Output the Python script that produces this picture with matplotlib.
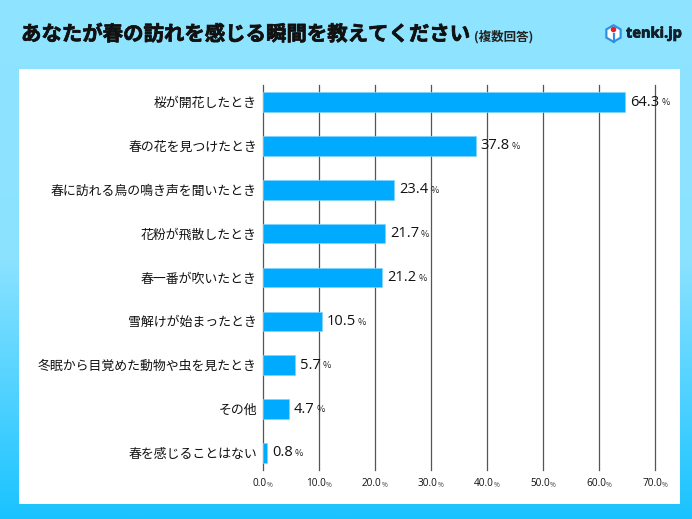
import numpy as np
import matplotlib
matplotlib.use('Agg')
import matplotlib.pyplot as plt
import matplotlib.patheffects as pe
from matplotlib.colors import LinearSegmentedColormap
from matplotlib.patches import Rectangle, RegularPolygon, Circle

plt.rcParams['font.family'] = ['Noto Sans CJK JP', 'DejaVu Sans']

labels = ['桜が開花したとき', '春の花を見つけたとき', '春に訪れる鳥の鳴き声を聞いたとき',
          '花粉が飛散したとき', '春一番が吹いたとき', '雪解けが始まったとき',
          '冬眠から目覚めた動物や虫を見たとき', 'その他', '春を感じることはない']
values = [64.3, 37.8, 23.4, 21.7, 21.2, 10.5, 5.7, 4.7, 0.8]
ticks = [0, 10, 20, 30, 40, 50, 60, 70]

W, H = 692, 519
fig = plt.figure(figsize=(W / 100, H / 100), dpi=100)
thick = [pe.withStroke(linewidth=0.5, foreground='#111111')]

# background gradient, white panel, title and logo, all in pixel coords
bg = fig.add_axes([0, 0, 1, 1])
bg.set_xlim(0, W)
bg.set_ylim(H, 0)
bg.axis('off')
cmap = LinearSegmentedColormap.from_list('bg', ['#8fe4ff', '#8be2ff', '#1ac3ff'])
bg.imshow(np.linspace(0, 1, 256).reshape(-1, 1), cmap=cmap, aspect='auto', extent=[0, W, H, 0])
bg.add_patch(Rectangle((19, 69), 661, 435, fc='white', ec='none'))

bg.text(21, 34, 'あなたが春の訪れを感じる瞬間を教えてください', fontsize=14.7, fontweight='bold',
        color='#111111', va='center', ha='left', path_effects=thick)
bg.text(474, 37, '(複数回答)', fontsize=9, fontweight='bold', color='#222222', va='center', ha='left')

# logo
bg.add_patch(RegularPolygon((613.5, 33.5), 6, radius=9.5, fc='#2f8fe0', ec='none'))
bg.add_patch(RegularPolygon((613.5, 33.5), 6, radius=7, fc='white', ec='none'))
bg.add_patch(Circle((613.5, 29.5), 2.8, fc='#e8202a', ec='none'))
bg.plot([613.5, 613.5], [34, 42], color='#2f8fe0', lw=1.6)
bg.text(626, 33.5, 'tenki.jp', family=['Open Sans', 'DejaVu Sans'], fontsize=10.5, fontweight='bold',
        color='#10202c', va='center', ha='left', path_effects=thick)

# chart
ax = fig.add_axes([262.5 / W, 1 - 470 / H, (655 - 262.5) / W, (470 - 85) / H])
ax.patch.set_visible(False)
y = np.arange(len(values))
ax.set_xlim(0, 70)
ax.set_ylim(len(values) - 1 + 0.39, -0.39)
ax.set_axisbelow(True)
ax.grid(axis='x', color='#555555', lw=0.9, clip_on=False)
for s in ax.spines.values():
    s.set_visible(False)
ax.set_yticks(y, labels, fontsize=9.3, color='#111111')
ax.tick_params(axis='y', length=0, pad=4)
ax.set_xticks(ticks, [''] * len(ticks))
ax.tick_params(axis='x', length=0)

# bars in the source run a little past the grid scale
bars = ax.twiny()
bars.patch.set_visible(False)
bars.set_xlim(0, 69.6)
bars.set_xticks([])
for s in bars.spines.values():
    s.set_visible(False)
bars.barh(y, values, height=0.444, color='#00aaff', edgecolor='#7fd4ff', linewidth=0.5, zorder=3)

for i, v in enumerate(values):
    t = bars.annotate(f'{v:.1f}', (v, i), xytext=(5, 0), textcoords='offset pixels',
                      fontsize=10.5, family=['Open Sans', 'DejaVu Sans'], color='#111111',
                      va='center', ha='left', zorder=4)
    bars.annotate('%', xy=(1, 0.45), xycoords=t, xytext=(2, 0), textcoords='offset pixels',
                  fontsize=6.5, color='#222222', va='center', ha='left', zorder=4)

for tk in ticks:
    t = ax.annotate(f'{tk:.1f}', (tk, 0), xycoords=('data', 'axes fraction'), xytext=(-3, -14),
                    textcoords='offset pixels', fontsize=7.2, family=['Open Sans', 'DejaVu Sans'],
                    color='#111111', va='center', ha='center', annotation_clip=False)
    ax.annotate('%', xy=(1, 0.42), xycoords=t, xytext=(0, 0), textcoords='offset pixels',
                fontsize=4.5, color='#222222', va='center', ha='left', annotation_clip=False)

fig.savefig('out.png', dpi=100)
